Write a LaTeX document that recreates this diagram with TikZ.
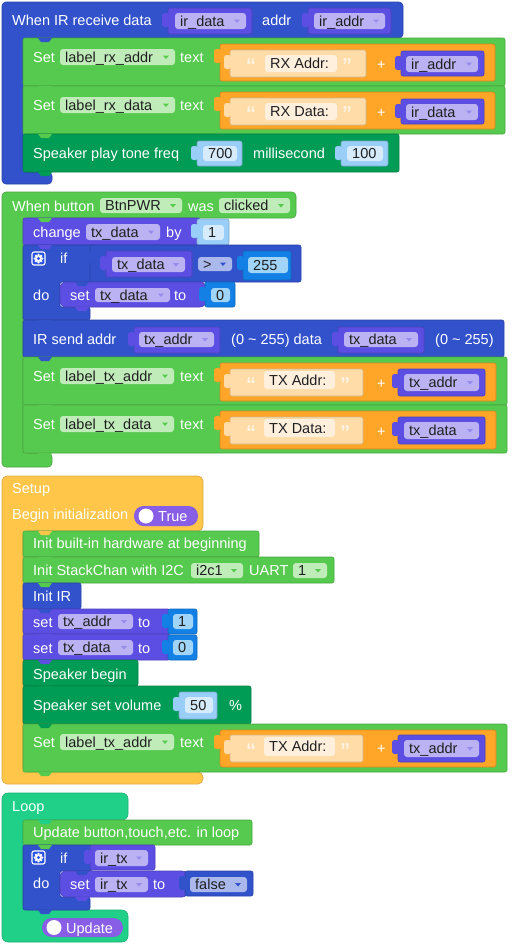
\documentclass[tikz,border=0pt]{standalone}
\usepackage{fontspec}
\setmainfont{Liberation Sans}
\definecolor{cBlue}{RGB}{50,82,204}
\definecolor{cGreen}{RGB}{86,202,78}
\definecolor{cDkGreen}{RGB}{0,155,85}
\definecolor{cPurple}{RGB}{92,78,226}
\definecolor{cLav}{RGB}{186,178,242}
\definecolor{cFGreen}{RGB}{192,236,186}
\definecolor{cOrange}{RGB}{255,166,41}
\definecolor{cStr}{RGB}{255,220,168}
\definecolor{cStrF}{RGB}{255,240,222}
\definecolor{cNum}{RGB}{152,206,248}
\definecolor{cNumF}{RGB}{214,236,252}
\definecolor{cNumB}{RGB}{18,128,228}
\definecolor{cNumBF}{RGB}{160,212,248}
\definecolor{cYellow}{RGB}{255,198,74}
\definecolor{cTeal}{RGB}{32,208,136}
\definecolor{cPill}{RGB}{136,94,230}
\definecolor{cBlueF}{RGB}{170,184,236}
\definecolor{cGear}{RGB}{40,80,230}
\definecolor{cQuote}{RGB}{255,244,228}
\newcounter{nn}
\newcommand\fs{\fontsize{14.5}{17}\selectfont}
\tikzset{
  lbl/.style={anchor=base west, inner sep=0pt, text=white, font=\fs},
  ftxt/.style={anchor=base west, inner sep=0pt, text=black!88, font=\fs},
  qtxt/.style={anchor=base west, inner sep=0pt, text=cQuote, font=\fontsize{20}{22}\selectfont\bfseries},
  sb/.style={line width=0.6pt, rounded corners=2pt},
}
\newcommand\lab[3]{\stepcounter{nn}\node[lbl] (n\arabic{nn}) at ({#1},{#2}) {#3};}
\newcommand\qt[3]{\stepcounter{nn}\node[qtxt] (n\arabic{nn}) at ({#1},{#2}) {#3};}
\newcommand\sblk[5]{\filldraw[sb, fill=#5, draw=#5!82!black] (#1,#2) rectangle (#3,#4);}
\newcommand\vblk[5]{\filldraw[sb, fill=#5, draw=#5!82!black] (#1,#2) rectangle (#3,#4);
  \fill[#5, rounded corners=2.5pt] ({#1-6},{#2+5}) rectangle ({#1+1},{#2+19});}
\newcommand\fld[6]{\fill[#5, rounded corners=3pt] (#1,#2) rectangle (#3,#4);
  \stepcounter{nn}\node[ftxt] (n\arabic{nn}) at ({#1+5},{(#2+#4)/2+5.2}) {#6};}
\newcommand\dfld[7]{\fld{#1}{#2}{#3}{#4}{#5}{#6}%
  \fill[#7] ({#3-12},{(#2+#4)/2-1.5}) -- ({#3-6},{(#2+#4)/2-1.5}) -- ({#3-9},{(#2+#4)/2+2}) -- cycle;}
\newcommand\nxt[3]{\fill[#3] ({#1+15},#2) -- ({#1+18},{#2+4}) -- ({#1+26},{#2+4}) -- ({#1+29},#2) -- cycle;}
\newcommand\pill[5]{\fill[cPill, rounded corners=9.5pt] (#1,#2) rectangle (#3,#4);
  \fill[white] ({#1+12},{(#2+#4)/2}) circle (7.5);
  \lab{#1+24}{(#2+#4)/2+5.8}{#5}}
\newcommand\gear[2]{%
  \filldraw[fill=cGear, draw=white, line width=1.1pt, rounded corners=2pt] ({#1-6.5},{#2-6.5}) rectangle ({#1+6.5},{#2+6.5});
  \foreach \a in {0,45,...,315}{\fill[white] ({#1+3.7*cos(\a)},{#2+3.7*sin(\a)}) circle (1.3);}
  \fill[white] (#1,#2) circle (3.5);
  \fill[cGear] (#1,#2) circle (1.6);}
\newcommand\lav{cPurple!65}
\begin{document}
\begin{tikzpicture}[x=1pt,y=-1pt]
\useasboundingbox (0,0) rectangle (513,948);
\fill[white] (0,0) rectangle (513,948);
% ===== Block 1: When IR receive data
\filldraw[sb, rounded corners=4pt, fill=cBlue, draw=cBlue!82!black] (2,2) -- (403,2) -- (403,38) -- (23,38) -- (23,172) -- (52,172) -- (52,184) -- (2,184) -- cycle;
\lab{12}{25.5}{When IR receive data}
\vblk{168}{8}{252}{34}{cPurple}
\dfld{175}{13}{246}{29}{cLav}{ir\_data}{\lav}
\lab{262}{25.5}{addr}
\vblk{308}{8}{391}{34}{cPurple}
\dfld{314}{13}{385}{29}{cLav}{ir\_addr}{\lav}
% row 1
\sblk{23}{38}{505}{86}{cGreen}
\lab{33}{62.5}{Set}
\dfld{60}{49}{175}{65}{cFGreen}{label\_rx\_addr}{cGreen}
\lab{180}{62.5}{text}
\vblk{220}{44}{495}{81}{cOrange}
\vblk{230}{50}{366}{77}{cStr}
\qt{246}{72.5}{“}
\fld{265}{55}{337}{72}{cStrF}{RX Addr:}
\qt{342}{72.5}{”}
\lab{377}{69}{+}
\vblk{401}{51}{484}{76}{cPurple}
\dfld{406}{56}{478}{72}{cLav}{ir\_addr}{\lav}
% row 2
\sblk{23}{86}{505}{134}{cGreen}
\lab{33}{110.5}{Set}
\dfld{60}{97}{175}{113}{cFGreen}{label\_rx\_data}{cGreen}
\lab{180}{110.5}{text}
\vblk{220}{92}{495}{129}{cOrange}
\vblk{230}{98}{366}{125}{cStr}
\qt{246}{120.5}{“}
\fld{265}{103}{337}{120}{cStrF}{RX Data:}
\qt{342}{120.5}{”}
\lab{377}{117}{+}
\vblk{401}{99}{484}{124}{cPurple}
\dfld{406}{104}{478}{120}{cLav}{ir\_data}{\lav}
% row 3
\sblk{23}{134}{399}{172}{cDkGreen}
\lab{33}{158.5}{Speaker play tone freq}
\vblk{197}{141}{242}{166}{cNum}
\fld{203}{146}{237}{161}{cNumF}{700}
\lab{253}{158.5}{millisecond}
\vblk{341}{141}{388}{166}{cNum}
\fld{347}{146}{383}{161}{cNumF}{100}
% ===== Block 2: When button
\filldraw[sb, rounded corners=4pt, fill=cGreen, draw=cGreen!82!black] (2,192) -- (296,192) -- (296,218) -- (23,218) -- (23,453) -- (52,453) -- (52,467) -- (2,467) -- cycle;
\lab{12}{211}{When button}
\dfld{100}{198}{182}{213}{cFGreen}{BtnPWR}{cGreen}
\lab{188}{211}{was}
\dfld{219}{198}{290}{213}{cFGreen}{clicked}{cGreen}
% change
\sblk{23}{218}{200}{245}{cPurple}
\lab{33}{237.5}{change}
\dfld{86}{224}{160}{240}{cLav}{tx\_data}{\lav}
\lab{166}{237.5}{by}
\vblk{197}{219}{229}{245}{cNum}
\fld{203}{225}{224}{240}{cNumF}{1}
% if
\filldraw[sb, fill=cBlue, draw=cBlue!82!black] (23,245) -- (96,245) -- (96,282) -- (60,282) -- (60,307) -- (90,307) -- (90,320) -- (23,320) -- cycle;
\vblk{90}{245}{301}{282}{cBlue}
\vblk{106}{251}{192}{277}{cPurple}
\dfld{112}{257}{185}{272}{cLav}{tx\_data}{\lav}
\dfld{198}{257}{232}{271}{cBlueF}{>}{cBlue}
\vblk{243}{251}{291}{280}{cNumB}
\fld{248}{257}{288}{273}{cNumBF}{255}
\gear{38.5}{258.5}
\lab{60}{263}{if}
\lab{33}{300}{do}
\filldraw[line width=0.6pt, rounded corners=6pt, fill=cPurple, draw=cPurple!82!black] (60,282) rectangle (206,307);
\lab{70}{300.5}{set}
\dfld{95}{288}{170}{302}{cLav}{tx\_data}{\lav}
\lab{174}{300.5}{to}
\vblk{205}{282}{235}{307}{cNumB}
\fld{211}{288}{230}{302}{cNumBF}{0}
% IR send
\sblk{23}{320}{504}{357}{cBlue}
\lab{33}{344.5}{IR send addr}
\vblk{134}{327}{220}{353}{cPurple}
\dfld{139}{332}{214}{347}{cLav}{tx\_addr}{\lav}
\lab{231}{344.5}{(0 \textasciitilde{} 255) data}
\vblk{338}{327}{424}{353}{cPurple}
\dfld{344}{332}{418}{347}{cLav}{tx\_data}{\lav}
\lab{435}{344.5}{(0 \textasciitilde{} 255)}
% set label_tx_addr
\sblk{23}{357}{507}{405}{cGreen}
\lab{33}{381}{Set}
\dfld{60}{368}{174}{384}{cFGreen}{label\_tx\_addr}{cGreen}
\lab{180}{381}{text}
\vblk{220}{363}{496}{401}{cOrange}
\vblk{230}{369}{363}{396}{cStr}
\qt{246}{391.5}{“}
\fld{264}{371}{335}{389}{cStrF}{TX Addr:}
\qt{340}{391.5}{”}
\lab{377}{388}{+}
\vblk{398}{369}{485}{396}{cPurple}
\dfld{404}{374}{479}{391}{cLav}{tx\_addr}{\lav}
% set label_tx_data
\sblk{23}{405}{507}{453}{cGreen}
\lab{33}{429}{Set}
\dfld{60}{416}{174}{432}{cFGreen}{label\_tx\_data}{cGreen}
\lab{180}{429}{text}
\vblk{220}{411}{496}{449}{cOrange}
\vblk{230}{417}{363}{444}{cStr}
\qt{246}{439.5}{“}
\fld{264}{419}{335}{437}{cStrF}{TX Data:}
\qt{340}{439.5}{”}
\lab{377}{436}{+}
\vblk{398}{417}{485}{444}{cPurple}
\dfld{404}{422}{479}{439}{cLav}{tx\_data}{\lav}
% ===== Block 3: Setup
\filldraw[sb, rounded corners=5pt, fill=cYellow, draw=cYellow!85!black] (2,476) -- (203,476) -- (203,531) -- (23,531) -- (23,772) -- (203,772) -- (203,784) -- (2,784) -- cycle;
\lab{12}{493}{Setup}
\lab{12}{519}{Begin initialization}
\pill{134}{506}{198}{526}{True}
\sblk{23}{531}{259}{557}{cGreen}
\lab{33}{548.5}{Init built-in hardware at beginning}
\sblk{23}{557}{334}{583}{cGreen}
\lab{33}{575}{Init StackChan with I2C}
\dfld{191}{563}{243}{578}{cFGreen}{i2c1}{cGreen}
\lab{249}{575}{UART}
\dfld{293}{563}{327}{578}{cFGreen}{1}{cGreen}
\sblk{23}{583}{81}{609}{cBlue}
\lab{33}{601}{Init IR}
\sblk{23}{609}{170}{634}{cPurple}
\lab{33}{627}{set}
\dfld{58}{614}{133}{629}{cLav}{tx\_addr}{\lav}
\lab{138}{627}{to}
\vblk{168}{609}{197}{634}{cNumB}
\fld{173}{614}{193}{629}{cNumBF}{1}
\sblk{23}{634}{170}{660}{cPurple}
\lab{33}{653}{set}
\dfld{58}{640}{133}{655}{cLav}{tx\_data}{\lav}
\lab{138}{653}{to}
\vblk{168}{635}{197}{660}{cNumB}
\fld{173}{640}{193}{655}{cNumBF}{0}
\sblk{23}{660}{138}{686}{cDkGreen}
\lab{33}{679}{Speaker begin}
\sblk{23}{686}{251}{724}{cDkGreen}
\lab{33}{710}{Speaker set volume}
\vblk{179}{692}{217}{719}{cNum}
\fld{185}{697}{213}{713}{cNumF}{50}
\lab{229}{710}{\%}
\sblk{23}{724}{507}{772}{cGreen}
\lab{33}{747}{Set}
\dfld{60}{734}{174}{750}{cFGreen}{label\_tx\_addr}{cGreen}
\lab{180}{747}{text}
\vblk{220}{730}{496}{767}{cOrange}
\vblk{230}{735}{363}{762}{cStr}
\qt{246}{757.5}{“}
\fld{264}{737}{335}{756}{cStrF}{TX Addr:}
\qt{340}{757.5}{”}
\lab{377}{753}{+}
\vblk{398}{735}{485}{762}{cPurple}
\dfld{404}{740}{479}{757}{cLav}{tx\_addr}{\lav}
% ===== Block 4: Loop
\filldraw[sb, rounded corners=6pt, fill=cTeal, draw=cTeal!85!black] (2,793) -- (128,793) -- (128,820) -- (23,820) -- (23,910) -- (128,910) -- (128,942) -- (2,942) -- cycle;
\lab{12}{811.5}{Loop}
\sblk{23}{820}{252}{845}{cGreen}
\lab{33}{837}{Update button,touch,etc. in loop}
\filldraw[sb, fill=cBlue, draw=cBlue!82!black] (23,845) -- (92,845) -- (92,871) -- (60,871) -- (60,897) -- (90,897) -- (90,910) -- (23,910) -- cycle;
\vblk{90}{845}{155}{870}{cPurple}
\dfld{95}{850}{148}{866}{cLav}{ir\_tx}{\lav}
\gear{38.5}{857.5}
\lab{60}{863}{if}
\lab{33}{888.5}{do}
\filldraw[line width=0.6pt, rounded corners=6pt, fill=cPurple, draw=cPurple!82!black] (60,871) rectangle (188,897);
\lab{70}{889}{set}
\dfld{95}{877}{148}{892}{cLav}{ir\_tx}{\lav}
\lab{153}{889}{to}
\vblk{185}{871}{253}{896}{cBlue}
\dfld{190}{877}{247}{892}{cBlueF}{false}{cBlue}
\pill{42}{918}{123}{937}{Update}
% ===== next-connection tabs
\nxt{23}{38}{cBlue}
\nxt{23}{86}{cGreen}
\nxt{23}{134}{cGreen}
\nxt{23}{172}{cDkGreen}
\nxt{23}{218}{cGreen}
\nxt{23}{245}{cPurple}
\nxt{60}{282}{cBlue}
\nxt{60}{307}{cPurple}
\nxt{23}{320}{cBlue}
\nxt{23}{357}{cBlue}
\nxt{23}{405}{cGreen}
\nxt{23}{453}{cGreen}
\nxt{23}{531}{cYellow}
\nxt{23}{557}{cGreen}
\nxt{23}{583}{cGreen}
\nxt{23}{609}{cBlue}
\nxt{23}{634}{cPurple}
\nxt{23}{660}{cPurple}
\nxt{23}{686}{cDkGreen}
\nxt{23}{724}{cDkGreen}
\nxt{23}{772}{cGreen}
\nxt{23}{820}{cTeal}
\nxt{23}{845}{cGreen}
\nxt{60}{871}{cBlue}
\nxt{60}{897}{cPurple}
\nxt{23}{910}{cBlue}
\end{tikzpicture}
\end{document}
